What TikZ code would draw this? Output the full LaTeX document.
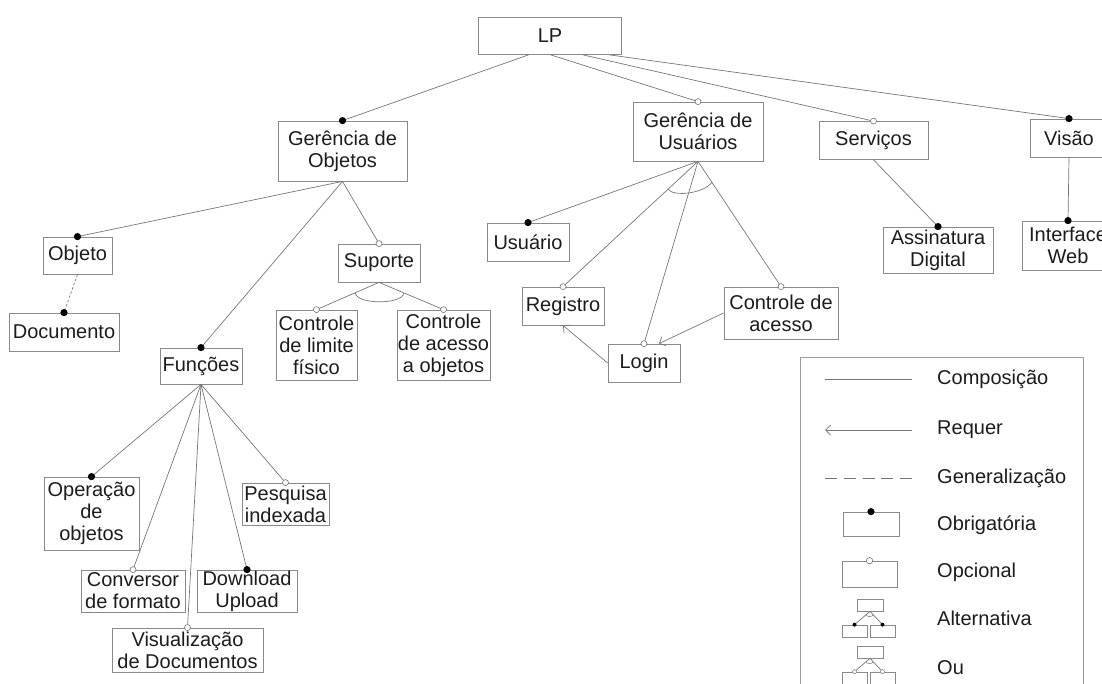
\documentclass[tikz,border=0pt]{standalone}
\usepackage{fontspec}
\setmainfont{Liberation Sans}
\usetikzlibrary{arrows.meta,calc}
\definecolor{boxc}{HTML}{8A8A8A}
\definecolor{linec}{HTML}{767676}
\definecolor{txt}{HTML}{1C1C1C}
\begin{document}
\begin{tikzpicture}[x=1pt,y=-1pt,
  feat/.style={draw=boxc, line width=0.8pt, align=center, inner sep=0pt,
    text=txt, font=\fontsize{20}{22}\selectfont},
  mini/.style={draw=boxc, line width=0.7pt, inner sep=0pt},
  comp/.style={draw=linec, line width=0.7pt},
  req/.style={comp, -{Straight Barb[length=5pt,width=10pt]}},
  gen/.style={comp, dash pattern=on 2.5pt off 2pt},
  gendash/.style={comp, dash pattern=on 12pt off 6.75pt},
  mand/.style={fill=black},
  opt/.style={draw=linec, fill=white, line width=0.6pt},
  grp/.style={draw=linec, line width=0.7pt},
  lbl/.style={anchor=west, inner sep=0pt, text=txt, font=\fontsize{20}{22}\selectfont}
]
\useasboundingbox (0,0) rectangle (1102,684);
\clip (0,0) rectangle (1102,684);

% ---------- features ----------
\node[feat, minimum width=143pt, minimum height=37pt] (lp) at (550,36) {LP};
\node[feat, minimum width=129pt, minimum height=60pt] (gobj) at (342.5,151) {Gerência de\\Objetos};
\node[feat, minimum width=130pt, minimum height=59pt] (gus) at (698,131.5) {Gerência de\\Usuários};
\node[feat, minimum width=109pt, minimum height=38pt] (serv) at (873.5,140.5) {Serviços};
\node[feat, minimum width=78pt, minimum height=38pt] (visao) at (1069,138) {Visão};

\node[feat, minimum width=69pt, minimum height=37pt] (objeto) at (77.5,255.5) {Objeto};
\node[feat, minimum width=110pt, minimum height=38pt] (doc) at (64,332) {Documento};
\node[feat, minimum width=82pt, minimum height=38pt] (suporte) at (379,263) {Suporte};
\node[feat, minimum width=81pt, minimum height=70pt] (clf) at (316.5,345) {Controle\\de limite\\físico};
\node[feat, minimum width=93pt, minimum height=70pt] (cao) at (443.5,345) {Controle\\de acesso\\a objetos};
\node[feat, minimum width=82pt, minimum height=36pt] (funcoes) at (201,366) {Funções};

\node[feat, minimum width=82pt, minimum height=38pt] (usuario) at (528,242) {Usuário};
\node[feat, minimum width=82pt, minimum height=38pt] (registro) at (563,306) {Registro};
\node[feat, minimum width=72pt, minimum height=38pt] (login) at (644,363) {Login};
\node[feat, minimum width=114pt, minimum height=52pt] (ctlac) at (781,313) {Controle de\\acesso};

\node[feat, minimum width=110pt, minimum height=46pt] (assin) at (938,250) {Assinatura\\Digital};
\node[feat, minimum width=92pt, minimum height=49pt] (iweb) at (1068,245.5) {Interface\\Web};

\node[feat, minimum width=95pt, minimum height=73pt] (oper) at (91.5,513.5) {Operação\\de\\objetos};
\node[feat, minimum width=104pt, minimum height=42pt] (conv) at (133,591) {Conversor\\de formato};
\node[feat, minimum width=151pt, minimum height=44pt] (visu) at (187.5,650) {Visualização\\de Documentos};
\node[feat, minimum width=100pt, minimum height=42pt] (down) at (247,591) {Download\\Upload};
\node[feat, minimum width=87pt, minimum height=42pt] (pesq) at (285.5,504) {Pesquisa\\indexada};

% ---------- composition edges ----------
\draw[comp] ($(lp.south west)!0.35!(lp.south east)$) -- (gobj.north);
\draw[comp] ($(lp.south west)!0.505!(lp.south east)$) -- (gus.north);
\draw[comp] ($(lp.south west)!0.73!(lp.south east)$) -- (serv.north);
\draw[comp] ($(lp.south west)!0.915!(lp.south east)$) -- (visao.north);

\draw[comp] (gobj.south) -- (objeto.north);
\draw[comp] (gobj.south) -- (funcoes.north);
\draw[comp] (gobj.south) -- (suporte.north);
\draw[gen] (objeto.south) -- (doc.north);
\draw[comp] (suporte.south) -- (clf.north);
\draw[comp] (suporte.south) -- (cao.north);

\draw[comp] (funcoes.south) -- (oper.north);
\draw[comp] (funcoes.south) -- (conv.north);
\draw[comp] (funcoes.south) -- (visu.north);
\draw[comp] (funcoes.south) -- (down.north);
\draw[comp] (funcoes.south) -- (pesq.north);

\draw[comp] (gus.south) -- (usuario.north);
\draw[comp] (gus.south) -- (registro.north);
\draw[comp] (gus.south) -- (login.north);
\draw[comp] (gus.south) -- (ctlac.north);

\draw[comp] (serv.south) -- (assin.north);
\draw[comp] (visao.south) -- (iweb.north);

% ---------- group arcs ----------
\draw[grp] ($(suporte.south)!0.38!(clf.north)$) .. controls +(1,12) and +(-1,12) .. ($(suporte.south)!0.385!(cao.north)$);
\draw[grp] ($(gus.south)!0.222!(registro.north)$) .. controls +(6,8) and +(-8,11) .. ($(gus.south)!0.167!(ctlac.north)$);

% ---------- requires ----------
\draw[req] (login.west) -- (registro.south);
\draw[req] (ctlac.west) -- ($(login.north)+(15,0)$);

% ---------- mandatory / optional markers ----------
\foreach \n in {gobj,visao,objeto,doc,funcoes,usuario,assin,iweb,oper,down}
  \path[mand] (\n.north) circle[radius=3.6pt];
\foreach \n in {gus,serv,suporte,clf,cao,registro,login,ctlac,conv,visu,pesq}
  \path[opt] (\n.north) circle[radius=3pt];

% ---------- legend ----------
\draw[draw=boxc!85, line width=0.8pt] (800,357) rectangle (1083,700);

\coordinate (la1) at (825,379); \coordinate (lb1) at (912,379);
\coordinate (la2) at (825,430); \coordinate (lb2) at (912,430);
\coordinate (la3) at (825,478); \coordinate (lb3) at (912,478);
\draw[comp] (la1) -- (lb1);
\draw[req] (lb2) -- (la2);
\draw[gendash] (la3) -- (lb3);

\node[mini, minimum width=56pt, minimum height=24pt] (lgob) at (871,524) {};
\path[mand] (lgob.north) circle[radius=3.6pt];
\node[mini, minimum width=55pt, minimum height=26pt] (lgop) at (869.5,574) {};
\path[opt] (lgop.north) circle[radius=3.2pt];

% alternative icon
\node[mini, minimum width=26pt, minimum height=12pt] (alt0) at (870,605) {};
\node[mini, minimum width=25pt, minimum height=12pt] (alt1) at (854.5,631) {};
\node[mini, minimum width=25pt, minimum height=12pt] (alt2) at (882.5,631) {};
\draw[comp] (alt0.south) -- (alt1.north);
\draw[comp] (alt0.south) -- (alt2.north);
\draw[grp, line width=0.5pt] ($(alt0.south)!0.25!(alt1.north)$) .. controls +(0,2.5) and +(0,2.5) .. ($(alt0.south)!0.25!(alt2.north)$);
\path[mand] (alt1.north) circle[radius=2pt];
\path[mand] (alt2.north) circle[radius=2pt];

% or icon
\node[mini, minimum width=26pt, minimum height=12pt] (or0) at (870,652) {};
\node[mini, minimum width=25pt, minimum height=14pt] (or1) at (854.5,679) {};
\node[mini, minimum width=25pt, minimum height=14pt] (or2) at (882.5,679) {};
\draw[comp] (or0.south) -- (or1.north);
\draw[comp] (or0.south) -- (or2.north);
\draw[grp, line width=0.5pt] ($(or0.south)!0.25!(or1.north)$) .. controls +(0,2.5) and +(0,2.5) .. ($(or0.south)!0.25!(or2.north)$);
\path[opt, line width=0.5pt] (or1.north) circle[radius=2pt];
\path[opt, line width=0.5pt] (or2.north) circle[radius=2pt];

\node[lbl] (tcomp) at (937,379) {Composição};
\node[lbl] (treq) at (937,430) {Requer};
\node[lbl] (tgen) at (937,478) {Generalização};
\node[lbl] (tobr) at (937,525) {Obrigatória};
\node[lbl] (topc) at (937,572) {Opcional};
\node[lbl] (talt) at (937,618) {Alternativa};
\node[lbl] (tou) at (937,668) {Ou};
\end{tikzpicture}
\end{document}
